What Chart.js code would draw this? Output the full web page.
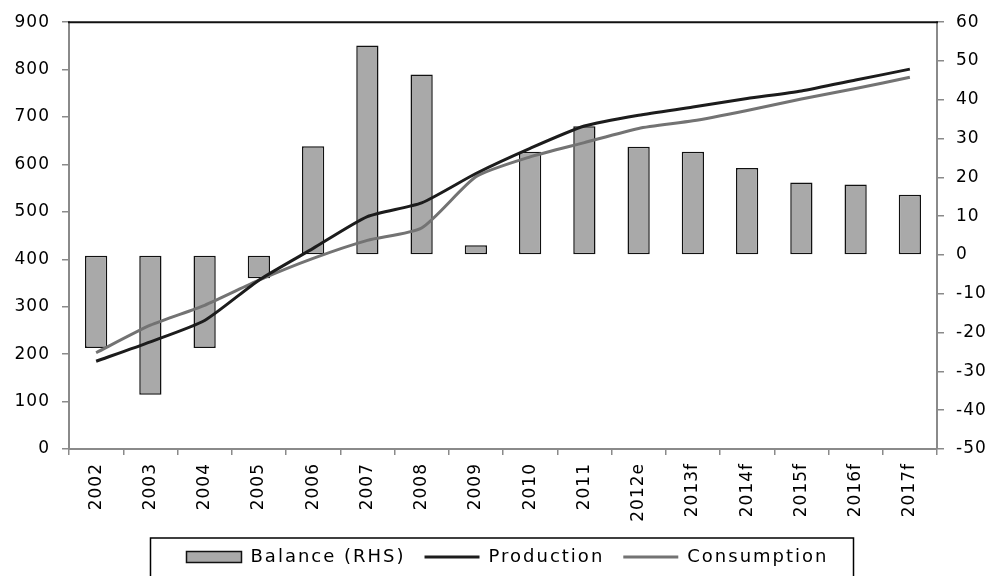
<!DOCTYPE html>
<html>
<head>
<meta charset="utf-8">
<script src="https://cdn.jsdelivr.net/npm/chart.js@4"></script>
<style>
  html, body { margin: 0; padding: 0; background: #fff; }
  #wrap { width: 991px; height: 576px; }
</style>
</head>
<body>
<div id="wrap"><canvas id="c" width="991" height="576"></canvas></div>
<script>
// Years on the category axis
const categories = ['2002', '2003', '2004', '2005', '2006', '2007', '2008', '2009',
  '2010', '2011', '2012e', '2013f', '2014f', '2015f', '2016f', '2017f'];

// Market balance, right-hand scale
const balance = [-24, -36, -24, -6, 28, 54, 46.5, 2.5, 26.6, 33.2, 27.9, 26.6, 22.4, 18.7, 18.2, 15.5];

// Production and consumption, left-hand scale
const production = [185, 226, 271, 356, 423, 490, 519, 581, 634, 681, 704, 721, 739, 755, 778, 801];
const consumption = [203, 261, 303, 356, 402, 440, 466, 574, 616, 646, 676, 692, 714, 738, 760, 784];

// Axis ranges
const leftTicks = { min: 0, max: 900, step: 100 };
const rightTicks = { min: -50, max: 60, step: 10 };

const FONT = 'DejaVu Sans';
const AXIS_GREY = '#8a8a8a';
const LEGEND_SHIFT = 12; // legend sits slightly right of centre

// Wider character spacing for the axis and legend text
const spacing = {
  id: 'spacing',
  beforeLayout(chart) { chart.ctx.letterSpacing = '1px'; },
  beforeDraw(chart) { chart.ctx.letterSpacing = '1px'; },
  afterInit(chart) {
    const lg = chart.legend;
    if (!lg) return;
    const origFit = lg.fit.bind(lg);
    lg.fit = function (...args) {
      const c = chart.ctx;
      const prev = c.letterSpacing;
      c.letterSpacing = '2px';
      const r = origFit(...args);
      c.letterSpacing = prev;
      return r;
    };
    const origDraw = lg.draw.bind(lg);
    lg.draw = function (...args) {
      const c = chart.ctx;
      c.save();
      c.letterSpacing = '2px';
      c.translate(LEGEND_SHIFT, 0);
      const r = origDraw(...args);
      c.restore();
      return r;
    };
  }
};

// Top edge of the plot frame and the box around the legend
const frame = {
  id: 'frame',
  afterDraw(chart) {
    const { ctx, chartArea } = chart;
    ctx.save();
    ctx.strokeStyle = '#111';
    ctx.lineWidth = 2;
    ctx.beginPath();
    ctx.moveTo(chartArea.left - 1, chartArea.top);
    ctx.lineTo(chartArea.right + 1, chartArea.top);
    ctx.stroke();

    const boxes = chart.legend && chart.legend.legendHitBoxes;
    if (boxes && boxes.length) {
      const first = boxes[0];
      const last = boxes[boxes.length - 1];
      const x0 = first.left - 36 + LEGEND_SHIFT;
      const x1 = last.left + last.width + 25 + LEGEND_SHIFT;
      const y0 = first.top - 10;
      ctx.strokeStyle = '#000';
      ctx.lineWidth = 1.5;
      ctx.strokeRect(x0, y0, x1 - x0, 60);
    }
    ctx.restore();
  }
};

new Chart(document.getElementById('c'), {
  data: {
    labels: categories,
    datasets: [
      {
        type: 'bar',
        label: 'Balance (RHS)',
        data: balance,
        yAxisID: 'y1',
        backgroundColor: '#a9a9a9',
        borderColor: '#111',
        borderWidth: 1.5,
        borderSkipped: false,
        barPercentage: 0.41,
        categoryPercentage: 1,
        pointStyle: 'rect',
        order: 3
      },
      {
        type: 'line',
        label: 'Production',
        data: production,
        yAxisID: 'y',
        borderColor: '#1c1c1c',
        backgroundColor: '#1c1c1c',
        borderWidth: 3,
        pointRadius: 0,
        tension: 0.2,
        pointStyle: 'line',
        order: 1
      },
      {
        type: 'line',
        label: 'Consumption',
        data: consumption,
        yAxisID: 'y',
        borderColor: '#737373',
        backgroundColor: '#737373',
        borderWidth: 3,
        pointRadius: 0,
        tension: 0.2,
        pointStyle: 'line',
        order: 2
      }
    ]
  },
  options: {
    responsive: false,
    animation: false,
    devicePixelRatio: 1,
    layout: { padding: { top: 22, left: 0, right: 0, bottom: 0 } },
    plugins: {
      tooltip: { enabled: false },
      legend: {
        position: 'bottom',
        labels: {
          usePointStyle: true,
          pointStyleWidth: 55,
          boxHeight: 11,
          padding: 19,
          color: '#000',
          font: { family: FONT, size: 18 },
          sort: (a, b) => a.datasetIndex - b.datasetIndex
        }
      }
    },
    scales: {
      x: {
        type: 'category',
        offset: true,
        grid: {
          display: true,
          offset: true,
          drawOnChartArea: false,
          drawTicks: true,
          tickLength: 6,
          color: AXIS_GREY,
          lineWidth: 1.5
        },
        border: { display: true, color: AXIS_GREY, width: 2 },
        ticks: {
          autoSkip: false,
          maxRotation: 90,
          minRotation: 90,
          padding: 8,
          color: '#000',
          font: { family: FONT, size: 17 }
        },
        afterFit(scale) { scale.height = 80; }
      },
      y: {
        type: 'linear',
        position: 'left',
        min: leftTicks.min,
        max: leftTicks.max,
        grid: {
          drawOnChartArea: false,
          drawTicks: true,
          tickLength: 7,
          color: AXIS_GREY,
          lineWidth: 1.5
        },
        border: { display: true, color: AXIS_GREY, width: 2 },
        ticks: {
          stepSize: leftTicks.step,
          padding: 12,
          color: '#000',
          font: { family: FONT, size: 17 }
        },
        afterFit(scale) { scale.width = 69; }
      },
      y1: {
        type: 'linear',
        position: 'right',
        min: rightTicks.min,
        max: rightTicks.max,
        grid: {
          drawOnChartArea: false,
          drawTicks: true,
          tickLength: 7,
          color: AXIS_GREY,
          lineWidth: 1.5
        },
        border: { display: true, color: AXIS_GREY, width: 2 },
        ticks: {
          stepSize: rightTicks.step,
          padding: 12,
          color: '#000',
          font: { family: FONT, size: 17 }
        },
        afterFit(scale) { scale.width = 54; }
      }
    }
  },
  plugins: [spacing, frame]
});
</script>
</body>
</html>
